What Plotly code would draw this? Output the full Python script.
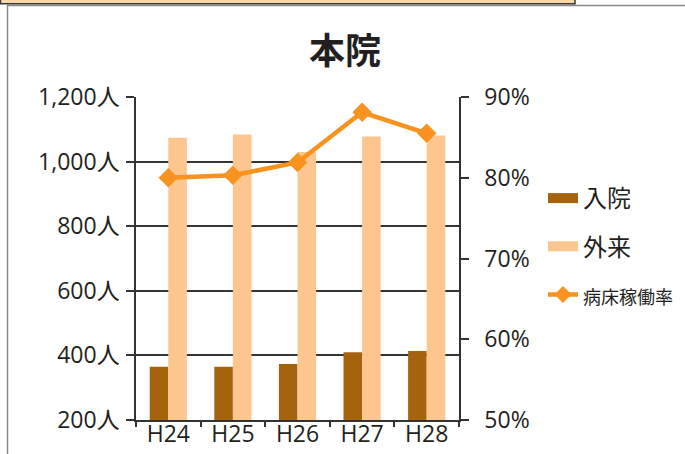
import plotly.graph_objects as go

categories = ["H24", "H25", "H26", "H27", "H28"]
inpatient = [365, 365, 373, 410, 414]        # 入院 (人)
outpatient = [1074, 1084, 1030, 1078, 1081]  # 外来 (人)
occupancy = [80.0, 80.3, 81.9, 88.1, 85.5]   # 病床稼働率 (%)

FONT = "Noto Sans CJK JP"
TICKFONT = "Open Sans, Noto Sans CJK JP"
TXT = "#231f20"
BROWN = "#a6630e"
PEACH = "#fcc68e"
ORANGE = "#f7931e"
W, H = 685, 454
L, R, T, B = 136, 226, 97, 34
pw, ph = W - L - R, H - T - B

def px(x):
    return (x - L) / pw

def py(y):
    return (H - B - y) / ph

fig = go.Figure()
fig.add_bar(x=categories, y=inpatient, name="入院", marker_color=BROWN,
            marker_line_width=0, showlegend=False)
fig.add_bar(x=categories, y=outpatient, name="外来", marker_color=PEACH,
            marker_line_width=0, showlegend=False)
fig.add_scatter(x=categories, y=occupancy, name="病床稼働率", yaxis="y2",
                mode="lines+markers", line=dict(color=ORANGE, width=4.5),
                marker=dict(symbol="diamond", size=15, color=ORANGE),
                showlegend=False)
# legend entries
fig.add_scatter(x=[None], y=[None], name="入院", mode="lines",
                line=dict(color=BROWN, width=14), legendgroup="a")
fig.add_scatter(x=[None], y=[None], name="外来", mode="lines",
                line=dict(color=PEACH, width=14), legendgroup="b")
fig.add_scatter(x=[None], y=[None], name="<span style='font-size:18px'>病床稼働率</span>",
                mode="lines+markers", yaxis="y2", legendgroup="c",
                line=dict(color=ORANGE, width=4.5),
                marker=dict(symbol="diamond", size=13, color=ORANGE))

tickfont = dict(size=23, family=TICKFONT, color=TXT)

fig.update_layout(
    width=W, height=H,
    margin=dict(l=L, r=R, t=T, b=B, autoexpand=False),
    paper_bgcolor="white", plot_bgcolor="white",
    font=dict(family=FONT, color=TXT, size=22),
    bargap=0.424, bargroupgap=0,
    title=dict(text="本院", x=345 / W, xanchor="center", xref="container",
               y=1 - 51 / H, yanchor="middle", yref="container",
               font=dict(size=36, family=FONT, color=TXT, weight="bold")),
    legend=dict(x=px(543), y=py(176), xanchor="left", yanchor="top",
                font=dict(size=24, family=FONT, color=TXT),
                tracegroupgap=14, bgcolor="rgba(0,0,0,0)"),
    xaxis=dict(type="category", showline=True, linecolor="#333", linewidth=1.5,
               ticks="outside", tickson="boundaries", ticklen=5, tickcolor="#333",
               tickwidth=1.5, showgrid=False, tickfont=tickfont,
               ticklabelstandoff=-7, automargin=False),
    yaxis=dict(range=[200, 1200], dtick=200, tickformat=",", ticksuffix="人",
               showline=True, linecolor="#333", linewidth=1.5,
               showgrid=True, gridcolor="#333", gridwidth=1.5,
               ticks="outside", ticklen=8, tickcolor="#333", tickwidth=1.5,
               tickfont=tickfont, zeroline=False, ticklabelstandoff=2,
               automargin=False),
    yaxis2=dict(range=[50, 90], dtick=10, ticksuffix="%", overlaying="y", side="right",
                showline=True, linecolor="#333", linewidth=1.5, showgrid=False,
                ticks="outside", ticklen=8, tickcolor="#333", tickwidth=1.5,
                tickfont=tickfont, zeroline=False, ticklabelstandoff=11,
                automargin=False),
    shapes=[
        dict(type="rect", xref="paper", yref="paper",
             x0=px(7.5), x1=px(700), y0=py(470), y1=py(5.5),
             line=dict(color="#8a8a8a", width=1.5), fillcolor="rgba(0,0,0,0)", layer="below"),
        dict(type="rect", xref="paper", yref="paper",
             x0=px(0.5), x1=px(575), y0=py(3.8), y1=py(-10),
             line=dict(color="#3a3a3a", width=1.5), fillcolor="#fdd6a8", layer="above"),
    ],
)

fig.write_html("out.html", config={"displayModeBar": False},
               post_script="document.body.style.margin='0';document.body.style.overflow='hidden';")
